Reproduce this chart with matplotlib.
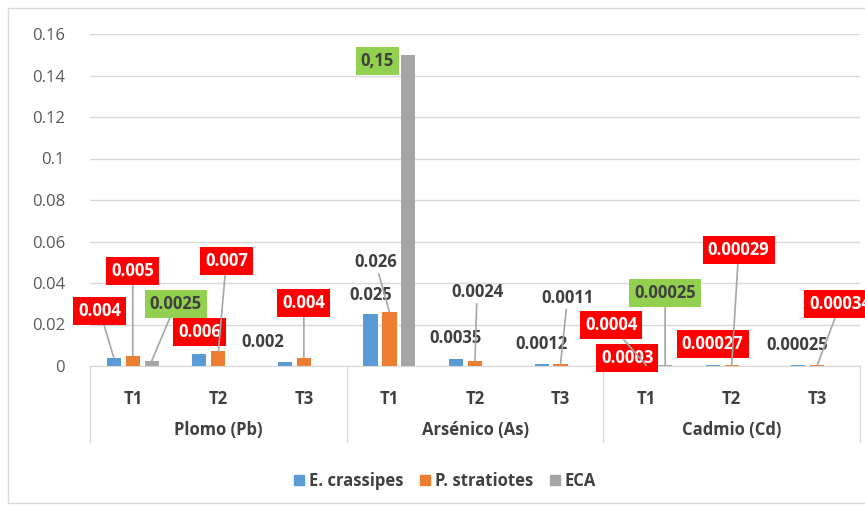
import numpy as np
import matplotlib
matplotlib.use("Agg")
import matplotlib.pyplot as plt
from matplotlib.patches import Rectangle, Patch
from matplotlib.ticker import FuncFormatter
import matplotlib.transforms as mtransforms

plt.rcParams['font.family'] = ['Open Sans', 'DejaVu Sans']

# data
groups = ['Plomo (Pb)', 'Arsénico (As)', 'Cadmio (Cd)']
treatments = ['T1', 'T2', 'T3']
series = ['E. crassipes', 'P. stratiotes', 'ECA']
e_crassipes = [0.004, 0.006, 0.002, 0.025, 0.0035, 0.0012, 0.0003, 0.00027, 0.00025]
p_stratiotes = [0.005, 0.007, 0.004, 0.026, 0.0024, 0.0011, 0.0004, 0.00029, 0.00034]
eca = [0.0025, np.nan, np.nan, 0.15, np.nan, np.nan, 0.00025, np.nan, np.nan]
label_text = [
    ['0.004', '0.006', '0.002', '0.025', '0.0035', '0.0012', '0.0003', '0.00027', '0.00025'],
    ['0.005', '0.007', '0.004', '0.026', '0.0024', '0.0011', '0.0004', '0.00029', '0.00034'],
    ['0.0025', None, None, '0,15', None, None, '0.00025', None, None],
]

# label placement (pixel offsets from bar top, style, leader line)
label_pos = [
    [(-14, 47, 'red', True), (0, 22, 'red', False), (-22, 20, 'plain', False),
     (0, 19, 'plain', False), (-1, 21, 'plain', False), (0, 20, 'plain', False),
     (0, 7, 'red', False), (0, 21, 'red', False), (-1, 20, 'plain', False)],
    [(0, 85, 'red', True), (8, 90, 'red', True), (0, 55, 'red', True),
     (-14, 50, 'plain', True), (2, 69, 'plain', True), (7, 66, 'plain', True),
     (-35, 40, 'red', True), (7, 115, 'red', True), (23, 61, 'red', True)],
    [(24, 57, 'green', True), None, None,
     (-31, -6, 'green', False), None, None,
     (0, 72, 'green', True), None, None],
]

colors = ['#5B9BD5', '#ED7D31', '#A5A5A5']
styles = {
    'red': dict(color='white', bbox=dict(boxstyle='square,pad=0.3', fc='#FF0000', ec='none')),
    'green': dict(color='#404040', bbox=dict(boxstyle='square,pad=0.3', fc='#92D050', ec='none')),
    'plain': dict(color='#404040'),
}

fig = plt.figure(figsize=(8.65, 5.08), dpi=100)
ax = fig.add_axes([90 / 865, 142 / 508, 770 / 865, 332 / 508])

x = np.arange(len(e_crassipes))
width = 0.165
step = 0.222
all_vals = [e_crassipes, p_stratiotes, eca]
for k, vals in enumerate(all_vals):
    xs = x + (k - 1) * step
    ax.bar(xs, vals, width, color=colors[k], zorder=2, label=series[k])
    for i, v in enumerate(vals):
        if label_pos[k][i] is None or np.isnan(v):
            continue
        dx, dy, st, leader = label_pos[k][i]
        kw = dict(styles[st])
        ap = dict(arrowstyle='-', color='#A6A6A6', lw=1.2, shrinkA=0, shrinkB=0) if leader else None
        ax.annotate(label_text[k][i], xy=(xs[i], v), xytext=(dx, dy),
                    textcoords='offset pixels', ha='center', va='center',
                    fontsize=12, fontweight='bold', arrowprops=ap,
                    annotation_clip=False, zorder=5, **kw)

ax.set_xlim(-0.5, 8.5)
ax.set_ylim(0, 0.16)
ax.set_yticks(np.arange(0, 0.161, 0.02))
ax.yaxis.set_major_formatter(FuncFormatter(lambda v, p: f'{round(v, 2):g}'))
ax.tick_params(axis='y', length=0, pad=18, labelsize=12, labelcolor='#595959')
ax.grid(axis='y', color='#D9D9D9', lw=1, zorder=0)
for s in ['left', 'right', 'top']:
    ax.spines[s].set_visible(False)
ax.spines['bottom'].set_color('#D9D9D9')

ax.set_xticks(x)
ax.set_xticklabels(treatments * 3)
ax.tick_params(axis='x', length=0, pad=17, labelsize=12, labelcolor='#404040')
for lab in ax.get_xticklabels():
    lab.set_fontweight('bold')

trans = mtransforms.blended_transform_factory(ax.transData, ax.transAxes)
for b in [-0.5, 2.5, 5.5, 8.5]:
    ax.plot([b, b], [0, -76 / 332], transform=trans, color='#D9D9D9', lw=1, clip_on=False)
for g, name in enumerate(groups):
    ax.text(g * 3 + 1, -64 / 332, name, transform=trans, ha='center', va='center',
            fontsize=12, fontweight='bold', color='#404040')

handles = [Patch(color=c) for c in colors]
leg = fig.legend(handles, series, loc='center', bbox_to_anchor=(445 / 865, 1 - 481 / 508),
                 ncol=3, frameon=False, handlelength=0.6, handleheight=0.6,
                 columnspacing=1.0, handletextpad=0.3, fontsize=12)
for t in leg.get_texts():
    t.set_color('#404040')
    t.set_fontweight('bold')

fig.patches.append(Rectangle((8 / 865, 5 / 508), 900 / 865, 495 / 508, transform=fig.transFigure,
                             fill=False, ec='#D9D9D9', lw=1))

fig.savefig('out.png', dpi=100)
